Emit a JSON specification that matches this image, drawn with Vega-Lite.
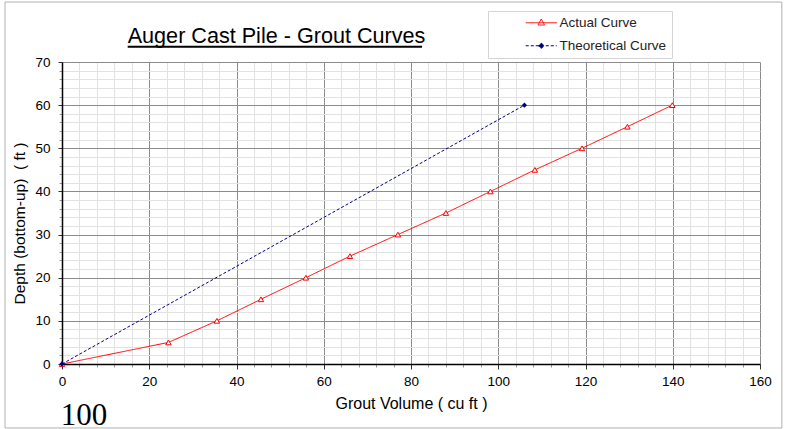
{
  "$schema": "https://vega.github.io/schema/vega-lite/v6.json",
  "width": 698,
  "height": 302,
  "autosize": {"type": "none"},
  "padding": {"left": 62, "top": 62, "right": 38, "bottom": 65},
  "background": "white",
  "config": {
    "font": "Liberation Sans",
    "view": {"stroke": null},
    "axis": {"labelFont": "Liberation Sans", "titleFont": "Liberation Sans", "labelColor": "black", "titleColor": "black", "titleFontWeight": "normal"}
  },
  "resolve": {"axis": {"x": "independent", "y": "independent"}},
  "data": {
    "values": [
      {"series": "Actual Curve", "vol": 0, "depth": 0},
      {"series": "Actual Curve", "vol": 24.4, "depth": 5},
      {"series": "Actual Curve", "vol": 35.5, "depth": 10},
      {"series": "Actual Curve", "vol": 45.6, "depth": 15},
      {"series": "Actual Curve", "vol": 55.9, "depth": 20},
      {"series": "Actual Curve", "vol": 66.0, "depth": 25},
      {"series": "Actual Curve", "vol": 77.0, "depth": 30},
      {"series": "Actual Curve", "vol": 88.0, "depth": 35},
      {"series": "Actual Curve", "vol": 98.2, "depth": 40},
      {"series": "Actual Curve", "vol": 108.4, "depth": 45},
      {"series": "Actual Curve", "vol": 119.2, "depth": 50},
      {"series": "Actual Curve", "vol": 129.6, "depth": 55},
      {"series": "Actual Curve", "vol": 139.9, "depth": 60},
      {"series": "Theoretical Curve", "vol": 0, "depth": 0},
      {"series": "Theoretical Curve", "vol": 106.0, "depth": 60}
    ]
  },
  "layer": [
    {
      "data": {"values": [{"frame": "outer"}]},
      "mark": {"type": "rect", "filled": false, "color": "#b0b0b0", "strokeWidth": 1},
      "encoding": {
        "x": {"datum": -13.06, "type": "quantitative", "axis": null},
        "x2": {"datum": 165.0},
        "y": {"datum": 83.9, "type": "quantitative", "axis": null},
        "y2": {"datum": -14.83}
      }
    },
    {
      "mark": {"type": "line", "strokeWidth": 1},
      "encoding": {
        "x": {
          "field": "vol", "type": "quantitative",
          "scale": {"domain": [0, 160], "nice": false, "zero": false},
          "axis": {
            "orient": "bottom",
            "title": "Grout Volume ( cu ft )",
            "values": [0,4,8,12,16,20,24,28,32,36,40,44,48,52,56,60,64,68,72,76,80,84,88,92,96,100,104,108,112,116,120,124,128,132,136,140,144,148,152,156,160],
            "labelExpr": "datum.value % 20 === 0 ? datum.label : ''",
            "grid": true,
            "gridColor": {"condition": {"test": "datum.value % 20 === 0", "value": "#8c8c8c"}, "value": "#e2e2e2"},
            "gridWidth": 1,
            "tickSize": {"condition": {"test": "datum.value % 20 === 0", "value": 5}, "value": 3},
            "tickColor": {"condition": {"test": "datum.value % 20 === 0", "value": "#333333"}, "value": "#999999"},
            "domainColor": "black",
            "domainWidth": 1.5,
            "labelFontSize": 13.5,
            "labelPadding": 5,
            "labelFlush": false,
            "labelOverlap": false,
            "titleFontSize": 16,
            "titlePadding": 8
          }
        },
        "y": {
          "field": "depth", "type": "quantitative",
          "scale": {"domain": [0, 70], "nice": false, "zero": false},
          "axis": {
            "orient": "left",
            "title": "Depth (bottom-up) \u00a0( ft )",
            "titleY": 161,
            "values": [0,2,4,6,8,10,12,14,16,18,20,22,24,26,28,30,32,34,36,38,40,42,44,46,48,50,52,54,56,58,60,62,64,66,68,70],
            "labelExpr": "datum.value % 10 === 0 ? datum.label : ''",
            "grid": true,
            "gridColor": {"condition": {"test": "datum.value % 10 === 0", "value": "#8c8c8c"}, "value": "#e2e2e2"},
            "gridWidth": 1,
            "tickSize": {"condition": {"test": "datum.value % 10 === 0", "value": 4}, "value": 3},
            "tickColor": {"condition": {"test": "datum.value % 10 === 0", "value": "#333333"}, "value": "#999999"},
            "domainColor": "black",
            "domainWidth": 1.5,
            "labelFontSize": 13.5,
            "labelPadding": 8,
            "labelFlush": false,
            "labelOverlap": false,
            "titleFontSize": 15.5,
            "titlePadding": 7
          }
        },
        "color": {
          "field": "series", "type": "nominal",
          "scale": {"domain": ["Actual Curve", "Theoretical Curve"], "range": ["#ff0000", "#000080"]},
          "legend": {
            "orient": "none",
            "legendX": 426,
            "legendY": -51,
            "title": null,
            "padding": 5,
            "fillColor": "white",
            "strokeColor": "#d4d4d4",
            "symbolSize": 100,
            "symbolOffset": 41.5,
            "labelOffset": 11.5,
            "labelFontSize": 13.5,
            "labelFont": "Liberation Sans",
            "labelColor": "#222222",
            "rowPadding": 8,
            "symbolStrokeWidth": 1,
            "encode": {
              "symbols": {
                "update": {
                  "shape": {"signal": "datum.value === 'Actual Curve' ? 'M-3.1,0H3.1M0,-0.75L0.65,0.45L-0.65,0.45Z' : 'M-3.1,0H3.1M0,-0.55L0.55,0L0,0.55L-0.55,0Z'"},
                  "fill": {"signal": "datum.value === 'Actual Curve' ? 'white' : '#000080'"},
                  "strokeDash": {"signal": "datum.value === 'Actual Curve' ? [1, 0] : [3, 2]"}
                }
              }
            }
          }
        },
        "strokeDash": {
          "field": "series", "type": "nominal",
          "scale": {"domain": ["Actual Curve", "Theoretical Curve"], "range": [[1, 0], [3, 2]]},
          "legend": null
        }
      }
    },
    {
      "transform": [{"filter": "datum.series === 'Actual Curve'"}],
      "mark": {"type": "point", "shape": "triangle-up", "filled": false, "color": "#ff0000", "fill": "white", "strokeWidth": 1, "size": 30, "opacity": 1},
      "encoding": {
        "x": {"field": "vol", "type": "quantitative", "axis": null},
        "y": {"field": "depth", "type": "quantitative", "axis": null}
      }
    },
    {
      "transform": [{"filter": "datum.series === 'Theoretical Curve'"}],
      "mark": {"type": "point", "shape": "diamond", "filled": true, "color": "#000080", "size": 28, "opacity": 1},
      "encoding": {
        "x": {"field": "vol", "type": "quantitative", "axis": null},
        "y": {"field": "depth", "type": "quantitative", "axis": null}
      }
    },
    {
      "data": {"values": [{"label": "100"}]},
      "mark": {"type": "text", "font": "Liberation Serif", "fontSize": 31, "align": "left", "baseline": "alphabetic", "color": "black"},
      "encoding": {
        "x": {"datum": -0.3, "type": "quantitative", "axis": null},
        "y": {"datum": -14.1, "type": "quantitative", "axis": null},
        "text": {"field": "label"}
      }
    },
    {
      "data": {"values": [{"label": "Auger Cast Pile - Grout Curves"}]},
      "mark": {"type": "text", "font": "Liberation Sans", "fontSize": 21.6, "align": "left", "baseline": "alphabetic", "color": "black"},
      "encoding": {
        "x": {"datum": 15.06, "type": "quantitative", "axis": null},
        "y": {"datum": 74.35, "type": "quantitative", "axis": null},
        "text": {"field": "label"}
      }
    },
    {
      "data": {"values": [{"underline": "title"}]},
      "mark": {"type": "rule", "color": "black", "strokeWidth": 2},
      "encoding": {
        "x": {"datum": 15.06, "type": "quantitative", "axis": null},
        "x2": {"datum": 82.52},
        "y": {"datum": 73.55, "type": "quantitative", "axis": null}
      }
    }
  ]
}
